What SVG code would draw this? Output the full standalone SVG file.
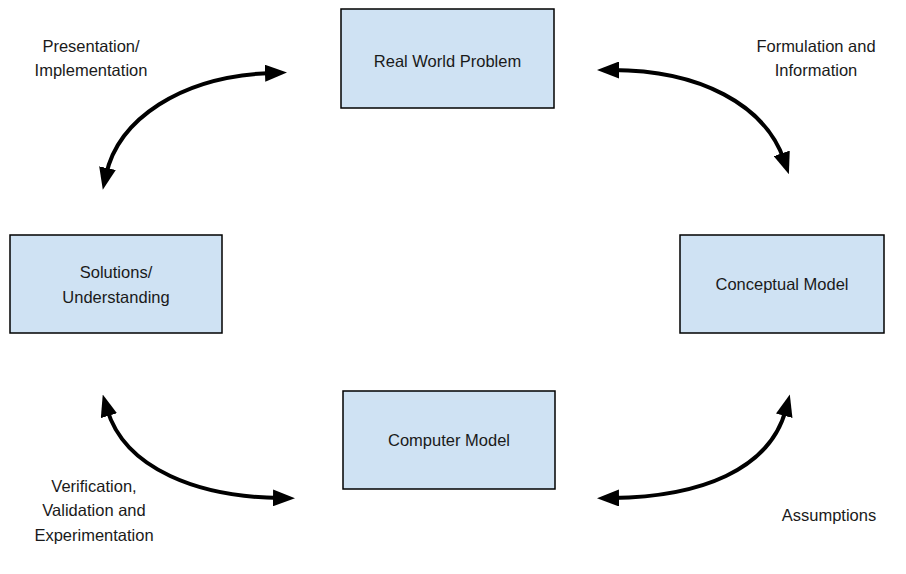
<svg xmlns="http://www.w3.org/2000/svg" width="906" height="574" viewBox="0 0 906 574">
  <style>
    .box { fill: #cfe2f3; stroke: #000; stroke-width: 1.5; }
    .txt { font-family: "Liberation Sans", Arial, sans-serif; font-size: 16.5px; fill: #1a1a1a; text-anchor: middle; }
    .link { fill: none; stroke: #000; stroke-width: 4; marker-start: url(#head); marker-end: url(#head); }
  </style>
  <defs>
    <marker id="head" markerUnits="userSpaceOnUse" viewBox="0 0 22 17" markerWidth="22" markerHeight="17" refX="7" refY="8.5" orient="auto-start-reverse">
      <path d="M0,0 L22,8.5 L0,17 Z" fill="#000"/>
    </marker>
  </defs>
  <rect width="906" height="574" fill="#fff"/>

  <g id="connectors">
    <path class="link" d="M272,73 C180,76 118,120 106,175"/>
    <path class="link" d="M612,70 C700,70 765,105 784,160"/>
    <path class="link" d="M107,409 C125,470 200,497 280,498"/>
    <path class="link" d="M612,498 C700,497 770,470 786,409"/>
  </g>

  <g id="real-world-problem">
    <rect class="box" x="341" y="9" width="213" height="99"/>
    <text class="txt" x="447.5" y="67">Real World Problem</text>
  </g>
  <g id="solutions-understanding">
    <rect class="box" x="10" y="235" width="212" height="98"/>
    <text class="txt" x="116" y="278">Solutions/</text>
    <text class="txt" x="116" y="303">Understanding</text>
  </g>
  <g id="conceptual-model">
    <rect class="box" x="680" y="235" width="204" height="98"/>
    <text class="txt" x="782" y="290">Conceptual Model</text>
  </g>
  <g id="computer-model">
    <rect class="box" x="343" y="391" width="212" height="98"/>
    <text class="txt" x="449" y="446">Computer Model</text>
  </g>

  <g id="labels">
    <text class="txt" x="91" y="52">Presentation/</text>
    <text class="txt" x="91" y="76">Implementation</text>
    <text class="txt" x="816" y="52">Formulation and</text>
    <text class="txt" x="816" y="76">Information</text>
    <text class="txt" x="94" y="492">Verification,</text>
    <text class="txt" x="94" y="516">Validation and</text>
    <text class="txt" x="94" y="541">Experimentation</text>
    <text class="txt" x="829" y="521">Assumptions</text>
  </g>
</svg>
